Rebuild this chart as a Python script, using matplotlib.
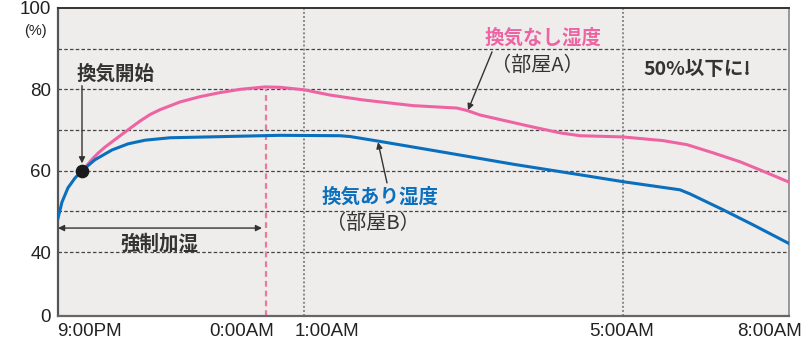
import numpy as np
import matplotlib
matplotlib.use('Agg')
import matplotlib.pyplot as plt

plt.rcParams['font.family'] = ['Noto Sans CJK JP', 'DejaVu Sans']

# horizontal position along the (schematic) time axis, 0 = 9:00PM, 731 = 8:00AM
room_a_x = [25, 29, 34, 40, 47, 54, 67, 82, 92, 102, 122, 142, 162, 182, 207, 222,
            246, 272, 305, 355, 399, 409, 422, 472, 502, 522, 565, 605, 629, 655,
            682, 702, 731]
room_a_rh = [60.0, 61.3, 62.8, 64.3, 65.8, 67.1, 69.5, 72.2, 73.8, 75.0, 76.9, 78.2, 79.2,
             80.0, 80.6, 80.5, 79.9, 78.6, 77.4, 76.0, 75.4, 74.8, 73.7, 70.9, 69.3, 68.6,
             68.3, 67.4, 66.4, 64.4, 62.2, 60.2, 57.2]

room_b_x = [0, 4, 10, 17, 24, 37, 54, 70, 87, 112, 149, 222, 282, 292, 307,
            322, 389, 455, 522, 565, 622, 632, 665, 695, 731]
room_b_rh = [48.3, 52.3, 55.8, 58.2, 60.0, 62.7, 65.1, 66.6, 67.5, 68.1, 68.3, 68.7, 68.6,
             68.4, 67.8, 67.2, 64.4, 61.6, 59.0, 57.3, 55.3, 54.3, 50.4, 46.7, 42.1]

start_x, start_rh = 24, 60
heating_end = 208          # 0:00AM, end of forced humidifying
hour_lines = [246, 565]    # 1:00AM, 5:00AM

x_tick_pos = [31, 184, 269, 564, 711]
x_tick_labels = ['9:00PM', '0:00AM', '1:00AM', '5:00AM', '8:00AM']
y_ticks = [0, 40, 60, 80, 100]
y_grid = [40, 50, 60, 70, 80, 90]

pink = '#ee64a3'
blue = '#0a6fbd'
dark = '#333333'

# axis is compressed below 40 %
K = 0.393


def fwd(v):
    v = np.asarray(v, dtype=float)
    return np.where(v >= 40, v, 40 - (40 - v) * K)


def inv(u):
    u = np.asarray(u, dtype=float)
    return np.where(u >= 40, u, 40 - (40 - u) / K)


fig = plt.figure(figsize=(8.08, 3.46), dpi=100)
fig.patch.set_facecolor('white')
ax = fig.add_axes([58 / 808, 30 / 346, 731 / 808, 308 / 346])
ax.set_facecolor('#eeedec')
ax.set_yscale('function', functions=(fwd, inv))
ax.set_xlim(0, 731)
ax.set_ylim(0, 100)

for g in y_grid:
    ax.axhline(g, color='#444444', lw=0.9, dashes=(2.8, 1.8), zorder=1)
for h in hour_lines:
    ax.axvline(h, color='#888888', lw=1.4, dashes=(1, 1.1), zorder=1)
ax.plot([heating_end, heating_end], [0, 80.2], color='#ec7a95', lw=1.6,
        dashes=(2.6, 1.8), zorder=2)

ax.plot(room_a_x, room_a_rh, color=pink, lw=2.2, zorder=3, solid_joinstyle='round')
ax.plot(room_b_x, room_b_rh, color=blue, lw=2.2, zorder=3, solid_joinstyle='round')
ax.plot([start_x], [start_rh], 'o', color='#1a1a1a', ms=8.8, zorder=4)

ax.set_xticks(x_tick_pos)
ax.set_xticklabels(x_tick_labels)
ax.set_yticks(y_ticks)
ax.tick_params(length=0, labelsize=13.5, colors='#222222')
ax.tick_params(axis='x', pad=5)
ax.tick_params(axis='y', pad=5)
ax.minorticks_off()
for lab in ax.get_xticklabels() + ax.get_yticklabels():
    lab.set_family(['Liberation Sans', 'DejaVu Sans'])

for side, c, w in [('left', '#555555', 1.6), ('bottom', '#666666', 1.6),
                   ('top', '#333333', 1.4), ('right', '#888888', 1.2)]:
    ax.spines[side].set_color(c)
    ax.spines[side].set_linewidth(w)

fig.text(35 / 808, 1 - 31 / 346, '(%)', ha='center', va='center', fontsize=10.5,
         color='#222222', family=['Liberation Sans', 'DejaVu Sans'])

arrow = dict(arrowstyle='-|>', color=dark, lw=1.0, mutation_scale=9, shrinkA=0, shrinkB=0)

ax.annotate('', xy=(24, 61.8), xytext=(24, 80.9), arrowprops=arrow)
ax.text(58, 83.8, '換気開始', ha='center', va='center', fontsize=14, color=dark, fontweight='bold')

ax.annotate('', xy=(0, 45.9), xytext=(204, 45.9),
            arrowprops=dict(arrowstyle='<|-|>', color=dark, lw=1.0, mutation_scale=9,
                            shrinkA=0, shrinkB=0))
ax.text(101, 42.0, '強制加湿', ha='center', va='center', fontsize=14, color=dark, fontweight='bold')

ax.text(485, 92.7, '換気なし湿度', ha='center', va='center', fontsize=14, color=pink, fontweight='bold')
ax.text(479, 85.8, '（部屋A）', ha='center', va='center', fontsize=14.5, color=dark)
ax.annotate('', xy=(410, 74.9), xytext=(434, 89.2), arrowprops=arrow)

ax.text(322, 53.6, '換気あり湿度', ha='center', va='center', fontsize=14, color=blue, fontweight='bold')
ax.text(315, 47.0, '（部屋B）', ha='center', va='center', fontsize=14.5, color=dark)
ax.annotate('', xy=(320, 67.0), xytext=(329, 57.0), arrowprops=arrow)

ax.text(639, 85.0, '50%以下に!', ha='center', va='center', fontsize=14, color=dark, fontweight='bold')

fig.savefig('out.png', dpi=100)
